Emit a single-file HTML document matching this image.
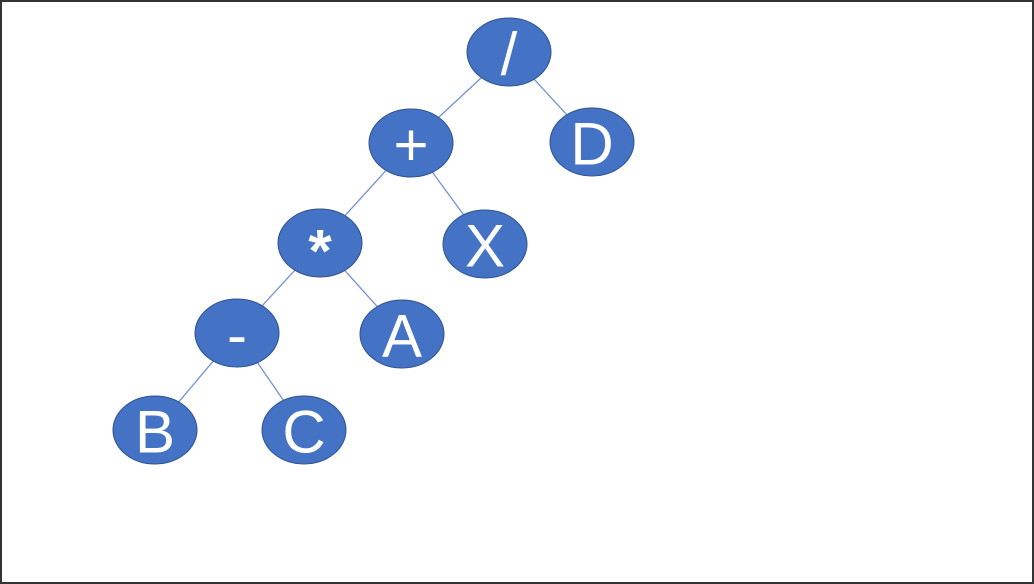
<!DOCTYPE html>
<html><head><meta charset="utf-8"><style>
html,body{margin:0;padding:0;background:#fff;}
svg{display:block;}
text{font-family:"Liberation Sans",sans-serif;fill:#fff;font-size:60px;text-anchor:middle;dominant-baseline:central;}
</style></head><body>
<svg width="1034" height="584">
<rect x="1" y="1" width="1032" height="582" fill="#fff" stroke="#333" stroke-width="2"/>
<g id="edges" stroke="#7393d3" stroke-width="1.3"></g>
<g id="nodes"></g>
</svg>
<script>
const labels=['/','+','D','*','X','-','A','B','C'];
const cxs=[509,411,592,320,485,237,402,155,304];
const cys=[52,143,142,243,244,333,334,430,430];
const parents=[-1,0,0,1,1,3,3,5,5];
const names=['divide','plus','d','multiply','x','minus','a','b','c'];
const NS='http://www.w3.org/2000/svg';
const rx=42,ry=34;
const eg=document.getElementById('edges'),ng=document.getElementById('nodes');
function edgePt(i,j){const dx=cxs[j]-cxs[i],dy=cys[j]-cys[i];const t=1/Math.sqrt((dx*dx)/(rx*rx)+(dy*dy)/(ry*ry));return [cxs[i]+dx*t,cys[i]+dy*t];}
for(let i=0;i<labels.length;i++){
 const p=parents[i];if(p<0)continue;
 const a=edgePt(p,i),b=edgePt(i,p);
 const l=document.createElementNS(NS,'line');
 l.setAttribute('x1',a[0]);l.setAttribute('y1',a[1]);l.setAttribute('x2',b[0]);l.setAttribute('y2',b[1]);
 
 
 eg.appendChild(l);
}
for(let i=0;i<labels.length;i++){
 const g=document.createElementNS(NS,'g');
 
 
 const e=document.createElementNS(NS,'ellipse');
 e.setAttribute('cx',cxs[i]);e.setAttribute('cy',cys[i]);e.setAttribute('rx',rx);e.setAttribute('ry',ry);
 e.setAttribute('fill','#4472c4');e.setAttribute('stroke','#2f528f');e.setAttribute('stroke-width','1');
 const t=document.createElementNS(NS,'text');
 t.setAttribute('x',cxs[i]);t.setAttribute('y',cys[i]+(labels[i]==='*'?8:2));
 if(labels[i]==='*'){t.setAttribute('font-size','66');t.setAttribute('font-weight','bold');}
 t.textContent=labels[i];
 g.appendChild(e);g.appendChild(t);ng.appendChild(g);
}
</script>
</body></html>
